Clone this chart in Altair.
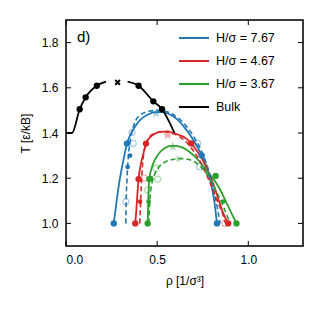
import altair as alt
import pandas as pd

# ---------------- data ----------------
series_labels = ["H/σ = 7.67", "H/σ = 4.67", "H/σ = 3.67", "Bulk"]
series_colors = ["#1f77b4", "#d62728", "#2ca02c", "#000000"]

# solid binodal curves
blue_solid_rho = [0.262, 0.270, 0.278, 0.290, 0.305, 0.320, 0.334, 0.355, 0.38, 0.41, 0.45, 0.49, 0.53, 0.57, 0.61, 0.65, 0.69, 0.72, 0.745, 0.765, 0.785, 0.80, 0.815, 0.828]
blue_solid_T = [1.00, 1.05, 1.10, 1.17, 1.24, 1.30, 1.353, 1.395, 1.43, 1.46, 1.482, 1.492, 1.492, 1.482, 1.46, 1.425, 1.38, 1.34, 1.30, 1.26, 1.21, 1.16, 1.09, 1.00]
red_solid_rho = [0.380, 0.385, 0.390, 0.398, 0.410, 0.425, 0.439, 0.46, 0.49, 0.52, 0.555, 0.59, 0.625, 0.66, 0.687, 0.71, 0.735, 0.76, 0.785, 0.81, 0.835, 0.86, 0.89]
red_solid_T = [1.00, 1.05, 1.11, 1.196, 1.26, 1.31, 1.353, 1.38, 1.398, 1.405, 1.407, 1.40, 1.39, 1.375, 1.354, 1.33, 1.30, 1.265, 1.22, 1.17, 1.11, 1.05, 1.00]
green_solid_rho = [0.448, 0.450, 0.452, 0.457, 0.47, 0.49, 0.515, 0.545, 0.575, 0.605, 0.64, 0.68, 0.72, 0.76, 0.79, 0.815, 0.845, 0.875, 0.905, 0.935]
green_solid_T = [1.00, 1.06, 1.12, 1.196, 1.245, 1.285, 1.315, 1.335, 1.343, 1.343, 1.335, 1.315, 1.285, 1.245, 1.215, 1.19, 1.15, 1.10, 1.05, 1.00]

# dashed curves
blue_dash_rho = [0.328, 0.330, 0.334, 0.338, 0.345, 0.355, 0.37, 0.40, 0.45, 0.50, 0.55, 0.60, 0.65, 0.70, 0.74, 0.77, 0.795, 0.815, 0.83, 0.845]
blue_dash_T = [1.00, 1.10, 1.18, 1.25, 1.32, 1.38, 1.43, 1.475, 1.495, 1.50, 1.495, 1.475, 1.44, 1.385, 1.325, 1.265, 1.20, 1.13, 1.07, 1.00]
red_dash_rho = [0.405, 0.407, 0.410, 0.413, 0.418, 0.425, 0.44, 0.46, 0.49, 0.52, 0.55, 0.58, 0.62, 0.66, 0.70, 0.745, 0.79, 0.83, 0.86, 0.875]
red_dash_T = [1.00, 1.05, 1.10, 1.17, 1.24, 1.30, 1.355, 1.385, 1.40, 1.405, 1.405, 1.40, 1.385, 1.36, 1.32, 1.26, 1.18, 1.10, 1.04, 1.00]
green_dash_rho = [0.455, 0.457, 0.46, 0.465, 0.475, 0.49, 0.51, 0.54, 0.57, 0.60, 0.63, 0.66, 0.70, 0.74, 0.78, 0.82, 0.86, 0.90]
green_dash_T = [1.00, 1.05, 1.10, 1.15, 1.19, 1.225, 1.25, 1.27, 1.28, 1.285, 1.287, 1.285, 1.275, 1.25, 1.21, 1.15, 1.08, 1.00]

# bulk curve (two segments) and points
bulk_left_rho = [0.0, 0.033, 0.075, 0.108, 0.169, 0.219]
bulk_left_T = [1.40, 1.40, 1.505, 1.558, 1.609, 1.627]
bulk_right_rho = [0.338, 0.398, 0.479, 0.527, 0.595]
bulk_right_T = [1.627, 1.609, 1.54, 1.505, 1.40]
bulk_pts_rho = [0.075, 0.108, 0.169, 0.398, 0.479, 0.527]
bulk_pts_T = [1.505, 1.558, 1.609, 1.609, 1.54, 1.505]
bulk_crit_rho = [0.283]
bulk_crit_T = [1.624]

# main filled markers
main_series = [0, 0, 0, 0, 1, 1, 1, 1, 1, 2, 2, 2, 2]
main_rho = [0.262, 0.334, 0.745, 0.828, 0.380, 0.398, 0.439, 0.687, 0.89, 0.448, 0.457, 0.821, 0.935]
main_T = [1.00, 1.353, 1.30, 1.00, 1.00, 1.196, 1.353, 1.354, 1.00, 1.00, 1.196, 1.21, 1.00]

# small filled markers on dashed curves
small_series = [0, 0, 1, 2, 2, 2]
small_rho = [0.338, 0.351, 0.406, 0.453, 0.466, 0.861]
small_T = [1.25, 1.30, 1.096, 1.096, 1.20, 1.096]

# faded open circles
open_series = [0, 0, 0, 0, 0, 1, 1, 2, 2, 2, 2]
open_rho = [0.369, 0.362, 0.723, 0.733, 0.329, 0.43, 0.871, 0.503, 0.494, 0.448, 0.76]
open_T = [1.354, 1.403, 1.354, 1.251, 1.096, 1.20, 1.00, 1.196, 1.244, 1.148, 1.251]

# faded critical points (stars) and dashed critical point (triangle)
star_series = [0, 1, 2]
star_rho = [0.494, 0.558, 0.586]
star_T = [1.487, 1.391, 1.34]
tri_series = [2]
tri_rho = [0.623]
tri_T = [1.285]

x_ticks = [0.0, 0.5, 1.0]
y_ticks = [1.0, 1.2, 1.4, 1.6, 1.8]

# ---------------- tables ----------------
def curve_rows(rows, series, seg, rho, T):
    for i, (r, t) in enumerate(zip(rho, T)):
        rows.append({"rho": r, "T": t, "series": series, "seg": seg, "idx": i})

solid_rows = []
curve_rows(solid_rows, series_labels[0], "b", blue_solid_rho, blue_solid_T)
curve_rows(solid_rows, series_labels[1], "r", red_solid_rho, red_solid_T)
curve_rows(solid_rows, series_labels[2], "g", green_solid_rho, green_solid_T)
curve_rows(solid_rows, series_labels[3], "k1", bulk_left_rho, bulk_left_T)
curve_rows(solid_rows, series_labels[3], "k2", bulk_right_rho, bulk_right_T)
solid_df = pd.DataFrame(solid_rows)

dash_rows = []
curve_rows(dash_rows, series_labels[0], "b", blue_dash_rho, blue_dash_T)
curve_rows(dash_rows, series_labels[1], "r", red_dash_rho, red_dash_T)
curve_rows(dash_rows, series_labels[2], "g", green_dash_rho, green_dash_T)
dash_df = pd.DataFrame(dash_rows)

def pts(series_idx, rho, T):
    return pd.DataFrame({"rho": rho, "T": T, "series": [series_labels[s] for s in series_idx]})

main_df = pd.concat([pts(main_series, main_rho, main_T),
                     pts([3] * len(bulk_pts_rho), bulk_pts_rho, bulk_pts_T)])
small_df = pts(small_series, small_rho, small_T)
open_df = pts(open_series, open_rho, open_T)
star_df = pts(star_series, star_rho, star_T)
tri_df = pts(tri_series, tri_rho, tri_T)
crit_df = pts([3], bulk_crit_rho, bulk_crit_T)
xtick_df = pd.DataFrame({"rho": x_ticks})
ytick_df = pd.DataFrame({"T": y_ticks})

FONT = "Liberation Sans"
W, H = 237, 226
TICK = 5
xscale = alt.Scale(domain=[0, 1.3], nice=False, zero=False)
yscale = alt.Scale(domain=[0.9, 1.9], nice=False, zero=False)
cscale = alt.Scale(domain=series_labels, range=series_colors)

axis_common = dict(grid=False, domain=False, ticks=False, labelPadding=8,
                   labelFont=FONT, labelFontSize=12, labelColor="black",
                   titleFont=FONT, titleFontSize=12, titleFontWeight="normal", titleColor="black")

X = alt.X("rho:Q", scale=xscale,
          axis=alt.Axis(orient="bottom", values=x_ticks, format=".1f",
                        title="ρ [1/σ³]", titlePadding=10, **axis_common))
Y = alt.Y("T:Q", scale=yscale,
          axis=alt.Axis(orient="left", values=y_ticks, format=".1f",
                        title="T [ε/kB]", titlePadding=9, **axis_common))

color_legend = alt.Color("series:N", scale=cscale,
                         legend=alt.Legend(title=None, orient="none", legendX=112, legendY=2,
                                           symbolType="stroke", symbolSize=900, symbolStrokeWidth=2,
                                           labelFont=FONT, labelFontSize=12.5, labelColor="black",
                                           labelOffset=6, rowPadding=-9, padding=0))
color_nolegend = alt.Color("series:N", scale=cscale, legend=None)

solid = alt.Chart(solid_df).mark_line(strokeWidth=1.8, interpolate="monotone").encode(
    x=X, y=Y, color=color_legend, detail="seg:N", order="idx:Q")
dashed = alt.Chart(dash_df).mark_line(strokeWidth=1.6, strokeDash=[5, 3], interpolate="monotone").encode(
    x=X, y=Y, color=color_nolegend, detail="seg:N", order="idx:Q")
opens = alt.Chart(open_df).mark_point(filled=False, size=36, strokeWidth=1.3, opacity=0.35).encode(
    x=X, y=Y, color=color_nolegend)
star_path = "M0,-1L0.2245,-0.309L0.951,-0.309L0.363,0.118L0.588,0.809L0,0.382L-0.588,0.809L-0.363,0.118L-0.951,-0.309L-0.2245,-0.309Z"
stars = alt.Chart(star_df).mark_point(shape=star_path, filled=True, size=110, opacity=0.4).encode(
    x=X, y=Y, color=color_nolegend)
tris = alt.Chart(tri_df).mark_point(shape="triangle-right", filled=True, size=45, opacity=0.4).encode(
    x=X, y=Y, color=color_nolegend)
smalls = alt.Chart(small_df).mark_circle(size=22, opacity=1).encode(
    x=X, y=Y, color=color_nolegend)
mains = alt.Chart(main_df).mark_circle(size=40, opacity=1).encode(
    x=X, y=Y, color=color_nolegend)
crit = alt.Chart(crit_df).mark_point(shape="M-1,-1L1,1M-1,1L1,-1", filled=False, size=22,
                                     strokeWidth=2, color="black", opacity=1).encode(
    x=X, y=Y)

# inward ticks on all four sides
tick_style = dict(color="black", strokeWidth=1)
xt_bottom = alt.Chart(xtick_df).mark_rule(**tick_style).encode(
    x=X, y=alt.value(H), y2=alt.value(H - TICK))
xt_top = alt.Chart(xtick_df).mark_rule(**tick_style).encode(
    x=X, y=alt.value(0), y2=alt.value(TICK))
yt_left = alt.Chart(ytick_df).mark_rule(**tick_style).encode(
    y=Y, x=alt.value(0), x2=alt.value(TICK))
yt_right = alt.Chart(ytick_df).mark_rule(**tick_style).encode(
    y=Y, x=alt.value(W), x2=alt.value(W - TICK))

frame = alt.Chart(crit_df).mark_rect(fill=None, stroke="black", strokeWidth=1.5).encode(
    x=alt.value(0), x2=alt.value(W), y=alt.value(0), y2=alt.value(H))

label = alt.Chart(crit_df).mark_text(text="d)", font=FONT, fontSize=15, align="left",
                                     baseline="middle", color="black").encode(
    x=alt.value(11), y=alt.value(17))

chart = alt.layer(solid, dashed, opens, stars, tris, smalls, mains, crit,
                  xt_bottom, xt_top, yt_left, yt_right, frame, label).properties(
    width=W, height=H,
    padding={"left": 58, "top": 12, "right": 8, "bottom": 56},
    autosize=alt.AutoSizeParams(type="none"),
).configure_view(stroke="black", strokeWidth=1.5).configure(background="white")

chart.save("out.html", embed_options={"renderer": "svg", "actions": False})
